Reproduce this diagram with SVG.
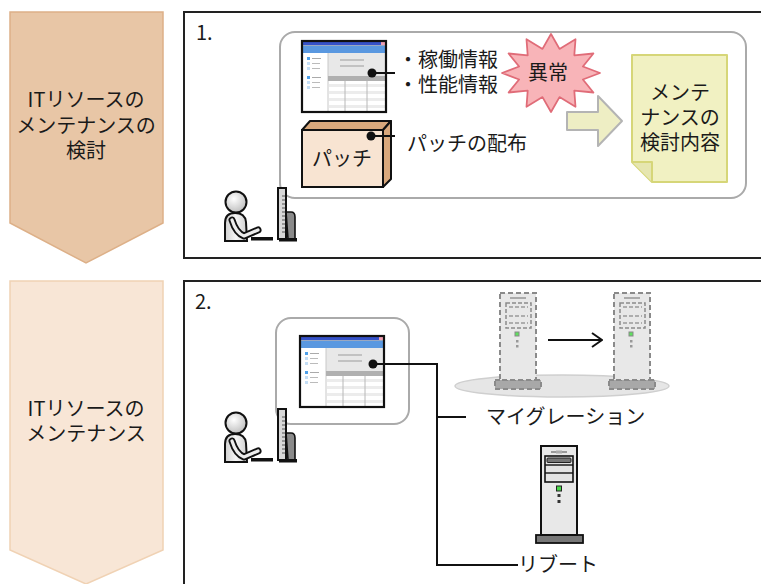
<svg xmlns="http://www.w3.org/2000/svg" xmlns:xlink="http://www.w3.org/1999/xlink" width="761" height="584" viewBox="0 0 761 584">
  <style>
    text { font-family: "Noto Sans CJK JP", "Noto Sans", sans-serif; font-size: 20px; fill: #1a1a1a; }
    .mid { text-anchor: middle; }
    .panel { fill: #fff; stroke: #222; stroke-width: 2; }
    .group { fill: #fff; stroke: #aaaaaa; stroke-width: 2; }
    .wire { fill: none; stroke: #111; stroke-width: 2; }
    .dot { fill: #111; }
    .dash { stroke: #8a8a8a; stroke-width: 2; stroke-dasharray: 5 3; }
  </style>
  <defs>
    <radialGradient id="skin" cx="0.4" cy="0.35" r="0.7">
      <stop offset="0" stop-color="#ffffff"/>
      <stop offset="1" stop-color="#bcbcbc"/>
    </radialGradient>
    <linearGradient id="cloth" x1="0" y1="0" x2="1" y2="0">
      <stop offset="0" stop-color="#cfcfcf"/>
      <stop offset="0.5" stop-color="#f6f6f6"/>
      <stop offset="1" stop-color="#cfcfcf"/>
    </linearGradient>
    <marker id="open" viewBox="0 0 12 16" refX="11" refY="8" markerWidth="12" markerHeight="16" markerUnits="userSpaceOnUse" orient="auto">
      <path d="M1,1 L11,8 L1,15" fill="none" stroke="#111" stroke-width="2"/>
    </marker>
    <!-- application window thumbnail, 84 x 71 -->
    <g id="screen">
      <rect x="0" y="0" width="84" height="71" fill="#fff"/>
      <rect x="0" y="0" width="84" height="4" fill="#3652c8"/>
      <rect x="0" y="4" width="84" height="1" fill="#9aa8c0"/>
      <rect x="0" y="5" width="84" height="7" fill="#5a98e0"/>
      <rect x="79" y="0" width="4" height="4" fill="#f0a0b4"/>
      <rect x="26" y="12" width="58" height="23" fill="#e8e8e8"/>
      <line x1="26" y1="12" x2="26" y2="71" stroke="#c8c8c8" stroke-width="1"/>
      <line x1="38" y1="19" x2="62" y2="19" stroke="#a8a8a8" stroke-width="1.2"/>
      <line x1="38" y1="25" x2="62" y2="25" stroke="#a8a8a8" stroke-width="1.2"/>
      <rect x="26" y="35" width="58" height="5" fill="#b0b0b0"/>
      <rect x="27" y="43" width="57" height="3" fill="#ececec"/>
      <rect x="27" y="50" width="57" height="3" fill="#ececec"/>
      <rect x="27" y="57" width="57" height="3" fill="#ececec"/>
      <rect x="27" y="64" width="57" height="3" fill="#ececec"/>
      <line x1="43" y1="40" x2="43" y2="71" stroke="#b8b8b8" stroke-width="1"/>
      <line x1="65" y1="40" x2="65" y2="71" stroke="#b8b8b8" stroke-width="1"/>
      <rect x="5" y="16" width="3" height="3" fill="#4ea0ea"/>
      <line x1="10" y1="17.5" x2="19" y2="17.5" stroke="#aaa" stroke-width="1"/>
      <rect x="5" y="21" width="3" height="3" fill="#c4def6"/>
      <line x1="10" y1="22.5" x2="18" y2="22.5" stroke="#bbb" stroke-width="1"/>
      <rect x="5" y="26" width="3" height="3" fill="#c4def6"/>
      <line x1="10" y1="27.5" x2="18" y2="27.5" stroke="#bbb" stroke-width="1"/>
      <rect x="5" y="35" width="3" height="3" fill="#4ea0ea"/>
      <line x1="10" y1="36.5" x2="19" y2="36.5" stroke="#aaa" stroke-width="1"/>
      <rect x="5" y="40" width="3" height="3" fill="#c4def6"/>
      <line x1="10" y1="41.5" x2="18" y2="41.5" stroke="#bbb" stroke-width="1"/>
      <rect x="5" y="45" width="3" height="3" fill="#c4def6"/>
      <line x1="10" y1="46.5" x2="18" y2="46.5" stroke="#bbb" stroke-width="1"/>
      <rect x="0" y="0" width="84" height="71" fill="none" stroke="#111" stroke-width="2.2"/>
    </g>
    <!-- seated operator at a desk monitor -->
    <g id="operator">
      <path d="M225,241 L225,223 Q225,213 235,213 Q245,213 246,222 L247,241 Z" fill="url(#cloth)" stroke="#111" stroke-width="2"/>
      <path d="M232,220 Q236,233 244,236 L258,230" fill="none" stroke="#111" stroke-width="7" stroke-linecap="round" stroke-linejoin="round"/>
      <path d="M232,220 Q236,233 244,236 L258,230" fill="none" stroke="#ececec" stroke-width="3.2" stroke-linecap="round" stroke-linejoin="round"/>
      <circle cx="236" cy="202" r="10.5" fill="url(#skin)" stroke="#111" stroke-width="2"/>
      <rect x="251" y="237" width="22" height="3.5" fill="#111"/>
      <path d="M286,212 L291,212 Q295,212 295,217 L295,239 L288,239 Z" fill="#8a8a8a" stroke="#111" stroke-width="1.6"/>
      <rect x="278" y="188" width="8" height="51" fill="#d8d8d8" stroke="#111" stroke-width="2"/>
      <path d="M282,196 h3 M282,200 h3 M282,204 h3 M282,208 h3 M282,212 h3 M282,216 h3 M282,220 h3 M282,224 h3 M282,228 h3 M282,232 h3" stroke="#555" stroke-width="1"/>
      <rect x="279" y="238" width="18" height="3.5" fill="#111"/>
    </g>
    <!-- tower server, dashed outline (virtual) -->
    <g id="vserver">
      <rect x="-5" y="87" width="46" height="9" fill="#a8a8a8" class="dash"/>
      <rect x="0" y="0" width="36" height="87" fill="#e8e8e8" class="dash"/>
      <line x1="10" y1="5" x2="26" y2="5" stroke="#aaa" stroke-width="2"/>
      <rect x="6" y="10" width="25" height="25" fill="none" stroke="#8a8a8a" stroke-width="1.5" stroke-dasharray="4 2"/>
      <line x1="9" y1="14" x2="28" y2="14" stroke="#999" stroke-width="1.5" stroke-dasharray="4 2"/>
      <line x1="9" y1="23" x2="28" y2="23" stroke="#999" stroke-width="1.5" stroke-dasharray="4 2"/>
      <line x1="9" y1="30" x2="28" y2="30" stroke="#999" stroke-width="1.5" stroke-dasharray="4 2"/>
      <rect x="15" y="39" width="4" height="4" fill="#5ee05e" stroke="#888" stroke-width="1"/>
      <rect x="16" y="47" width="2.5" height="2.5" fill="#999"/>
      <rect x="16" y="52" width="2.5" height="2.5" fill="#999"/>
    </g>
  </defs>

  <!-- phase banners -->
  <g id="phase1">
    <polygon points="10,12 163,12 163,223 86,263 10,223" fill="#e8c6a6" stroke="#ddb088" stroke-width="1.5"/>
    <text class="mid" x="86" y="107">ITリソースの</text>
    <text class="mid" x="86" y="133">メンテナンスの</text>
    <text class="mid" x="86" y="158">検討</text>
  </g>
  <g id="phase2">
    <polygon points="10,281 163,281 163,550 86,584 10,550" fill="#f8e6d6" stroke="#f0d2b4" stroke-width="1.5"/>
    <text class="mid" x="86" y="416">ITリソースの</text>
    <text class="mid" x="86" y="441">メンテナンス</text>
  </g>

  <!-- step frames -->
  <g id="step1">
    <rect class="panel" x="184" y="12" width="600" height="246"/>
    <text x="196" y="40">1.</text>
  </g>
  <g id="step2">
    <rect class="panel" x="184" y="281" width="600" height="320"/>
    <text x="195" y="309">2.</text>
  </g>

  <!-- step 1 contents -->
  <g id="review-box">
    <rect class="group" x="280" y="32" width="466" height="166" rx="15"/>
  </g>
  <g id="monitor1">
    <use xlink:href="#screen" x="302" y="41"/>
  </g>
  <g id="patch">
    <polygon points="302,130 310,121 391,121 383,130" fill="#d9a87c" stroke="#111" stroke-width="2" stroke-linejoin="round"/>
    <polygon points="383,130 391,121 391,179 383,187" fill="#d9a87c" stroke="#111" stroke-width="2" stroke-linejoin="round"/>
    <rect x="302" y="130" width="81" height="57" fill="#f8e4d2" stroke="#111" stroke-width="2"/>
    <text x="312" y="166">パッチ</text>
  </g>
  <g id="status-labels">
    <text x="398" y="67">・稼働情報</text>
    <text x="398" y="92">・性能情報</text>
    <text x="407" y="151">パッチの配布</text>
  </g>
  <g id="anomaly">
    <polygon points="551,34 559.5,48.9 575.5,39.2 574.3,55.3 593.4,53.5 582.9,66.5 600,73 582.9,79.5 593.4,92.5 574.3,90.7 575.5,106.8 559.5,97.1 551,112 542.5,97.1 526.5,106.8 527.7,90.7 508.6,92.5 519.1,79.5 502,73 519.1,66.5 508.6,53.5 527.7,55.3 526.5,39.2 542.5,48.9" fill="#f8b4b8" stroke="#e06c78" stroke-width="1.8" stroke-linejoin="round"/>
    <text class="mid" x="548" y="80">異常</text>
  </g>
  <g id="flow-arrow">
    <polygon points="567,112 598,112 598,96 622,121 598,146 598,130 567,130" fill="#eeeec4" stroke="#b4b4b4" stroke-width="2" stroke-linejoin="round"/>
  </g>
  <g id="plan-doc">
    <path d="M632,55 L727,55 L727,182 L652,182 L632,162 Z" fill="#f1f1c2" stroke="#d6d678" stroke-width="2" stroke-linejoin="round"/>
    <path d="M632,162 L652,162 L652,182" fill="#e6e6b0" stroke="#d6d678" stroke-width="2" stroke-linejoin="round"/>
    <text class="mid" x="680" y="100">メンテ</text>
    <text class="mid" x="680" y="125">ナンスの</text>
    <text class="mid" x="680" y="150">検討内容</text>
  </g>
  <g id="operator1">
    <use xlink:href="#operator"/>
  </g>

  <!-- step 2 contents -->
  <g id="console-box">
    <rect class="group" x="276" y="318" width="133" height="106" rx="15"/>
    <use xlink:href="#screen" x="300" y="336"/>
  </g>
  <g id="operator2">
    <use xlink:href="#operator" y="221"/>
  </g>
  <g id="pool">
    <ellipse cx="562" cy="386" rx="107" ry="11" fill="#e6e6e6" stroke="#cfcfcf" stroke-width="1.5"/>
  </g>
  <g id="vserver-src">
    <use xlink:href="#vserver" x="500" y="293"/>
  </g>
  <g id="vserver-dst">
    <use xlink:href="#vserver" x="614" y="293"/>
  </g>
  <g id="server">
    <rect x="536" y="535" width="47" height="8" fill="#777" stroke="#111" stroke-width="1.8"/>
    <rect x="541" y="446" width="36" height="89" fill="#e8e8e8" stroke="#111" stroke-width="2"/>
    <line x1="551" y1="452" x2="567" y2="452" stroke="#999" stroke-width="2"/>
    <rect x="556" y="450.5" width="6" height="3" fill="#aaa"/>
    <rect x="545" y="456" width="28" height="26" fill="#e4e4e4" stroke="#111" stroke-width="1.6"/>
    <rect x="547" y="458" width="24" height="4.5" rx="1" fill="#777" stroke="#222" stroke-width="1"/>
    <line x1="545" y1="465" x2="573" y2="465" stroke="#111" stroke-width="1.4"/>
    <line x1="545" y1="473" x2="573" y2="473" stroke="#111" stroke-width="1.4"/>
    <rect x="556.5" y="486" width="5" height="5" fill="#48d848" stroke="#222" stroke-width="1"/>
    <rect x="557.5" y="494" width="3" height="3" fill="#333"/>
    <rect x="557.5" y="500" width="3" height="3" fill="#333"/>
  </g>
  <g id="action-labels">
    <text x="486" y="424">マイグレーション</text>
    <text x="518" y="572">リブート</text>
  </g>

  <!-- connectors -->
  <g id="connectors">
    <line class="wire" x1="372" y1="73" x2="395" y2="73"/>
    <circle class="dot" cx="372" cy="73" r="4.5"/>
    <line class="wire" x1="371" y1="136" x2="395" y2="136"/>
    <circle class="dot" cx="371" cy="136" r="4.5"/>
    <polyline class="wire" points="373,364 437,364 437,565 518,565"/>
    <line class="wire" x1="437" y1="417" x2="466" y2="417"/>
    <circle class="dot" cx="373" cy="364" r="4.5"/>
    <line class="wire" x1="548" y1="340" x2="602" y2="340" marker-end="url(#open)"/>
  </g>
</svg>
